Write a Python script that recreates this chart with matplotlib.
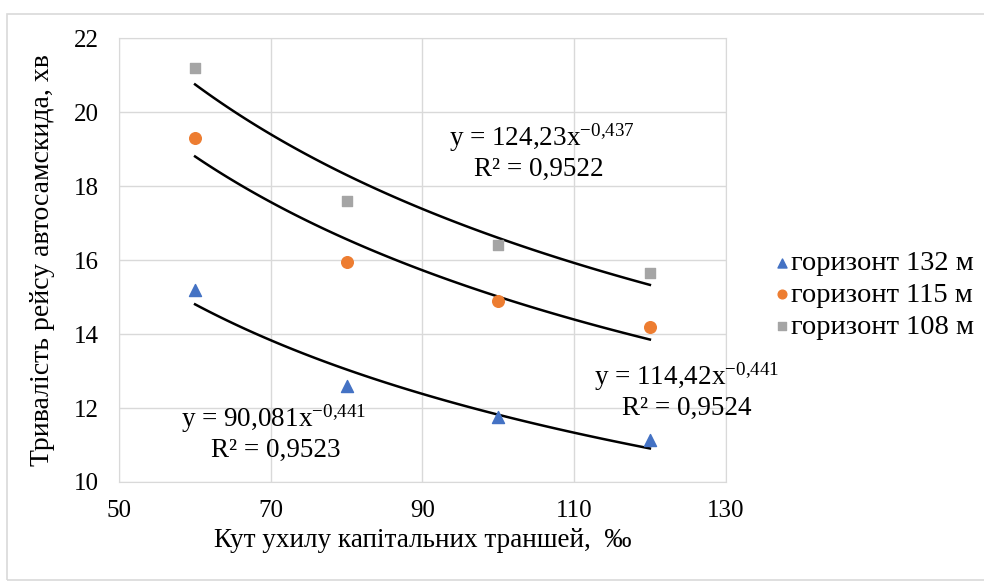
import matplotlib.pyplot as plt
import numpy as np
from matplotlib.patches import Rectangle

plt.rcParams['font.family'] = ['Liberation Serif', 'DejaVu Serif']
plt.rcParams['mathtext.fontset'] = 'custom'
plt.rcParams['mathtext.rm'] = 'Liberation Serif'
plt.rcParams['mathtext.it'] = 'Liberation Serif:italic'

# Data
angles = [60, 80, 100, 120]
h132 = [15.2, 12.6, 11.75, 11.13]
h115 = [19.3, 15.95, 14.9, 14.2]
h108 = [21.2, 17.6, 16.4, 15.65]

# Power trendline coefficients (y = a * x^b) as given on the chart
fit_a = [90.081, 114.42, 124.23]
fit_b = [-0.441, -0.441, -0.437]

fig = plt.figure(figsize=(9.84, 5.84), dpi=100)
fig.patches.append(Rectangle((0.007, 0.006), 1.0, 0.97, transform=fig.transFigure,
                             fill=False, edgecolor='#d9d9d9', linewidth=1.2))
ax = fig.add_axes([0.1212, 0.1747, 0.6163, 0.7594])

ax.scatter(angles, h132, marker='^', s=75, color='#4472c4', label='горизонт 132 м', zorder=3)
ax.scatter(angles, h115, marker='o', s=70, color='#ed7d31', label='горизонт 115 м', zorder=3)
ax.scatter(angles, h108, marker='s', s=60, color='#a5a5a5', label='горизонт 108 м', zorder=3)

xx = np.linspace(angles[0], angles[-1], 100)
for a, b in zip(fit_a, fit_b):
    ax.plot(xx, a * xx ** b, color='black', linewidth=1.8, zorder=2)

ax.set_xlim(50, 130)
ax.set_ylim(10, 22)
ax.set_xticks([50, 70, 90, 110, 130])
ax.set_yticks([10, 12, 14, 16, 18, 20, 22])
ax.tick_params(labelsize=18, length=0)
ax.tick_params(axis='x', pad=13)
ax.tick_params(axis='y', pad=15)
ax.grid(True, color='#d9d9d9', linewidth=1)
ax.set_axisbelow(True)
for s in ax.spines.values():
    s.set_color('#d9d9d9')

ax.set_xlabel('Кут ухилу капітальних траншей,  ‰', fontsize=19.5, labelpad=4)
ax.set_ylabel('Тривалість рейсу автосамскида, хв', fontsize=20, labelpad=13)

def eq(a, b):
    return 'y = ' + a + 'x$^{\\mathregular{' + b.replace(',', '{,}') + '}}$'

fs = 19.5
ax.text(105.8, 19.31, eq('124,23', '-0,437'), fontsize=fs, ha='center', va='center')
ax.text(105.4, 18.45, 'R² = 0,9522', fontsize=fs, ha='center', va='center')
ax.text(124.9, 12.86, eq('114,42', '-0,441'), fontsize=fs, ha='center', va='center')
ax.text(124.8, 11.99, 'R² = 0,9524', fontsize=fs, ha='center', va='center')
ax.text(70.3, 11.72, eq('90,081', '-0,441'), fontsize=fs, ha='center', va='center')
ax.text(70.6, 10.85, 'R² = 0,9523', fontsize=fs, ha='center', va='center')

ax.legend(loc='center left', bbox_to_anchor=(0.786, 0.495), bbox_transform=fig.transFigure,
          frameon=False, fontsize=20.5, borderpad=0, borderaxespad=0,
          handletextpad=0.0, labelspacing=0.2, handlelength=0.6, markerscale=0.75)

fig.savefig('out.png', dpi=100)
